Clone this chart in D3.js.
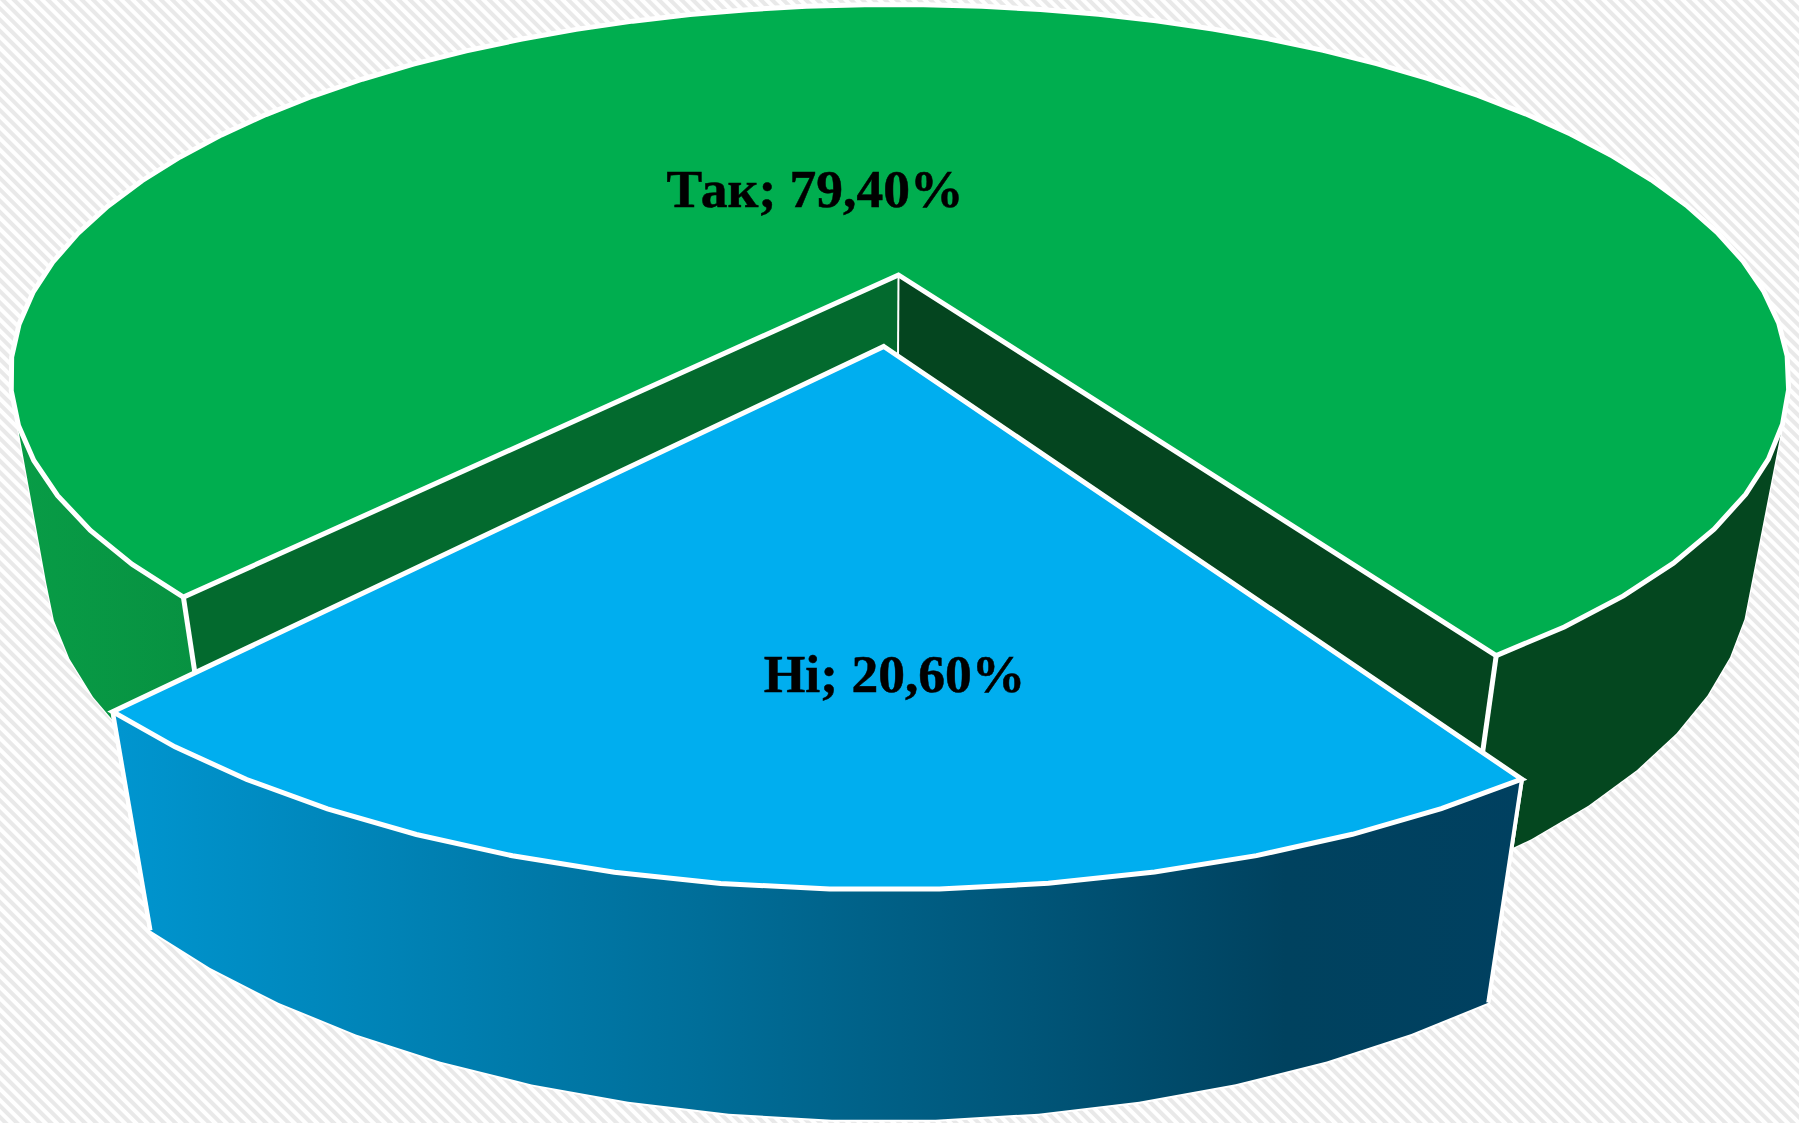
<!DOCTYPE html>
<html><head><meta charset="utf-8">
<script src="https://cdn.jsdelivr.net/npm/d3@7/dist/d3.min.js"></script>
<style>html,body{margin:0;padding:0;background:#fff;overflow:hidden}svg{display:block}</style>
</head><body><script>
// DATA
const categories = ["Так", "Ні"];
const values = [79.4, 20.6];
const topColors = ["#00AE4F", "#00AEEF"];
const labelAnchors = [[815, 207], [894.5, 692]];
// explosion of each slice, in units of the pie radius on the pie plane
const explode = [[0, 0], [-0.0172, 0.1961]];

const W = 1799, H = 1123, DEG = Math.PI / 180;

// Perspective camera fitted to the picture
const cam = { k: 0.275, A: 854.9, B: 344.9, m: 15.1, xv: 883.4, y0: 275, Vx: 869, Vy: 5111, t: 0.0388 };
function top3(X, Y) {
  const w = 1 - cam.k * Y;
  return [cam.xv + (cam.A * X + cam.m) / w, cam.y0 + cam.B * Y / w, w];
}
function bottom3(X, Y) {
  const [x, y, w] = top3(X, Y), r = cam.t / (w + cam.t);
  return [x + (cam.Vx - x) * r, y + (cam.Vy - y) * r];
}

const pie = d3.pie().sort(null).startAngle(222 * DEG).endAngle(582 * DEG);
const arcs = pie(values);
const STEP = 5 * DEG;
function rim(a, i) {
  const n = Math.round((a.endAngle - a.startAngle) / STEP);
  const [ox, oy] = explode[i];
  return d3.range(n + 1).map(j => {
    const th = a.startAngle + (a.endAngle - a.startAngle) * j / n;
    return [ox + Math.sin(th), oy - Math.cos(th)];
  });
}
const line = d3.line().x(d => d[0]).y(d => d[1]);
const closed = pts => line(pts) + "Z";

const svg = d3.select("body").append("svg").attr("width", W).attr("height", H).attr("viewBox", `0 0 ${W} ${H}`);
const defs = svg.append("defs");
const pat = defs.append("pattern").attr("id", "bg").attr("patternUnits", "userSpaceOnUse")
  .attr("width", 8).attr("height", 8).attr("patternTransform", "rotate(-45)");
pat.append("rect").attr("width", 8).attr("height", 8).attr("fill", "#ffffff");
pat.append("rect").attr("width", 4).attr("height", 8).attr("fill", "#e9e9e9");

function grad(id, stops) {
  const g = defs.append("linearGradient").attr("id", id).attr("gradientUnits", "userSpaceOnUse")
    .attr("x1", 0).attr("x2", W).attr("y1", 0).attr("y2", 0);
  stops.forEach(([x, c]) => g.append("stop").attr("offset", x / W).attr("stop-color", c));
}
grad("gw", [[20, "#089C46"], [1460, "#04471F"]]);
grad("bw", [[120, "#0095CF"], [700, "#006E99"], [1285, "#00425F"], [1530, "#004060"]]);

svg.append("rect").attr("width", W).attr("height", H).attr("fill", "url(#bg)");

function drawWall(pts, fill, halo) {
  const d = d3.pairs(pts).map(([p, q]) => {
    const f = [top3(...p), top3(...q), bottom3(...q), bottom3(...p)].map(e => [e[0], e[1]]);
    return closed(d3.polygonArea(f) < 0 ? f.reverse() : f);
  }).join("");
  svg.append("path").attr("d", d).attr("fill", "#fff").attr("stroke", "#fff").attr("stroke-width", halo).attr("stroke-linejoin", "round");
  svg.append("path").attr("d", d).attr("fill", fill).attr("fill-rule", "nonzero");
}
function edge(p, width) {
  const a = top3(...p), b = bottom3(...p);
  svg.append("line").attr("x1", a[0]).attr("y1", a[1]).attr("x2", b[0]).attr("y2", b[1])
    .attr("stroke", "#fff").attr("stroke-width", width);
}
function innerFace(c, p, fill) {
  const q = [top3(...c), top3(...p), bottom3(...p), bottom3(...c)].map(d => [d[0], d[1]]);
  svg.append("path").attr("d", closed(q)).attr("fill", fill);
}
function topFace(c, pts, fill) {
  const q = [c, ...pts].map(p => top3(...p)).map(d => [d[0], d[1]]);
  svg.append("path").attr("d", closed(q)).attr("fill", fill)
    .attr("stroke", "#fff").attr("stroke-width", 5).attr("stroke-linejoin", "miter");
}

// green slice
const gp = rim(arcs[0], 0), gc = explode[0];
drawWall(gp, "url(#gw)", 2.4);
innerFace(gc, gp[0], "#036A2E");
innerFace(gc, gp[gp.length - 1], "#04451F");
edge(gp[0], 5);
edge(gp[gp.length - 1], 5);
edge(gc, 2);
topFace(gc, gp, topColors[0]);

// blue slice
const bp = rim(arcs[1], 1), bc = explode[1];
drawWall(bp, "url(#bw)", 4);
edge(bp[0], 4);
edge(bp[bp.length - 1], 4.5);
topFace(bc, bp, topColors[1]);

// labels
svg.selectAll("text.lab").data(arcs).join("text").attr("class", "lab")
  .attr("x", (d, i) => labelAnchors[i][0]).attr("y", (d, i) => labelAnchors[i][1])
  .attr("text-anchor", "middle")
  .attr("font-family", "'Liberation Serif','Times New Roman',serif")
  .attr("font-weight", "bold").attr("font-size", 53.5).attr("fill", "#000")
  .attr("stroke", "#000").attr("stroke-width", 0.5)
  .text((d, i) => `${categories[i]}; ${d.value.toFixed(2).replace(".", ",")}%`);
</script></body></html>
